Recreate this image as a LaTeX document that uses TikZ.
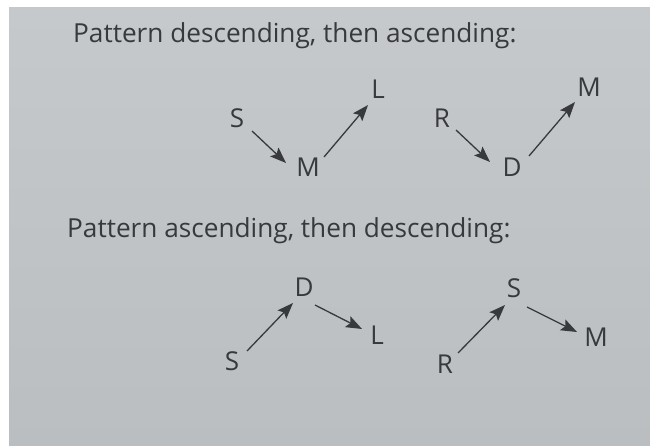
\documentclass[tikz,border=0pt]{standalone}
\usepackage{fontspec}
\setmainfont{Open Sans}
\usetikzlibrary{arrows.meta,calc}
\definecolor{paper}{RGB}{186,190,192}
\definecolor{paperlight}{RGB}{198,201,203}
\definecolor{ink}{RGB}{55,57,60}
\tikzset{
  lbl/.style={inner sep=0pt,text=ink,font=\fontsize{26}{30}\selectfont},
  ttl/.style={inner sep=0pt,text=ink,anchor=base west,font=\fontsize{26.2}{30}\selectfont},
  arr/.style={draw=ink,line width=1.3pt,-{Stealth[length=16pt,width=12pt,inset=3pt]}}
}
\begin{document}
\begin{tikzpicture}[x=1pt,y=-1pt]
\useasboundingbox (0,0) rectangle (650,446);
\fill[white] (0,0) rectangle (650,446);
\shade[top color=paperlight,bottom color=paper] (9,8) rectangle (650,446);
% titles
\node[ttl] (t1) at (73,43) {Pattern descending, then ascending:};
\node[ttl] (t2) at (67,238) {Pattern ascending, then descending:};
% diagram 1
\node[lbl] (s1) at (237,118) {S};
\node[lbl] (m1) at (308,167) {M};
\node[lbl] (l1) at (378,89) {L};
\draw[arr] ($(s1)+(15,13)$) -- ($(m1)+(-22,-4)$);
\draw[arr] ($(m1)+(16,-10)$) -- ($(l1)+(-10,16)$);
% diagram 2
\node[lbl] (r2) at (442,118) {R};
\node[lbl] (d2) at (512,167) {D};
\node[lbl] (m2) at (589,87) {M};
\draw[arr] ($(r2)+(14,12)$) -- ($(d2)+(-22,-5)$);
\draw[arr] ($(d2)+(17,-11)$) -- ($(m2)+(-14,15)$);
% diagram 3
\node[lbl] (s3) at (232,361) {S};
\node[lbl] (d3) at (304,287) {D};
\node[lbl] (l3) at (377,335) {L};
\draw[arr] ($(s3)+(15,-10)$) -- ($(d3)+(-11,16)$);
\draw[arr] ($(d3)+(11,18)$) -- ($(l3)+(-15,-6)$);
% diagram 4
\node[lbl] (r4) at (445,364) {R};
\node[lbl] (s4) at (514,288) {S};
\node[lbl] (m4) at (596,337) {M};
\draw[arr] ($(r4)+(13,-11)$) -- ($(s4)+(-9,17)$);
\draw[arr] ($(s4)+(13,19)$) -- ($(m4)+(-19,-5)$);
\end{tikzpicture}
\end{document}
